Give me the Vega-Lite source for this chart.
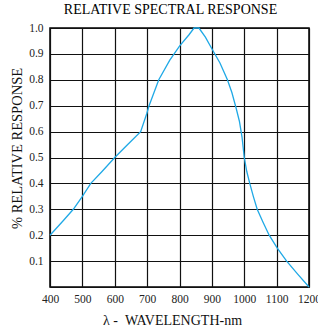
{
  "$schema": "https://vega.github.io/schema/vega-lite/v6.json",
  "width": 259,
  "height": 259,
  "autosize": {"type": "none"},
  "padding": {"left": 50, "top": 28, "right": 9, "bottom": 42},
  "background": "white",
  "title": {
    "text": "RELATIVE SPECTRAL RESPONSE",
    "font": "Liberation Serif",
    "fontSize": 14,
    "fontWeight": "normal",
    "color": "black",
    "anchor": "middle",
    "frame": "group",
    "dx": -9,
    "offset": 5
  },
  "config": {
    "view": {"stroke": "black", "strokeWidth": 1.5},
    "axis": {
      "labelFont": "Liberation Serif",
      "titleFont": "Liberation Serif",
      "labelColor": "#222",
      "titleColor": "#111",
      "labelFontSize": 11.5,
      "titleFontWeight": "normal",
      "gridColor": "#111",
      "gridOpacity": 1,
      "gridWidth": 1.2,
      "domain": false,
      "ticks": false
    }
  },
  "data": {
    "values": [
      {"nm": 400, "r": 0.2},
      {"nm": 440, "r": 0.255},
      {"nm": 472, "r": 0.3},
      {"nm": 500, "r": 0.35},
      {"nm": 526, "r": 0.4},
      {"nm": 560, "r": 0.445},
      {"nm": 600, "r": 0.5},
      {"nm": 640, "r": 0.55},
      {"nm": 680, "r": 0.6},
      {"nm": 699, "r": 0.67},
      {"nm": 706, "r": 0.7},
      {"nm": 736, "r": 0.8},
      {"nm": 770, "r": 0.876},
      {"nm": 800, "r": 0.93},
      {"nm": 830, "r": 0.975},
      {"nm": 845, "r": 1.0},
      {"nm": 860, "r": 1.0},
      {"nm": 880, "r": 0.965},
      {"nm": 900, "r": 0.92},
      {"nm": 925, "r": 0.865},
      {"nm": 948, "r": 0.8},
      {"nm": 962, "r": 0.75},
      {"nm": 975, "r": 0.69},
      {"nm": 985, "r": 0.64},
      {"nm": 993, "r": 0.58},
      {"nm": 1000, "r": 0.5},
      {"nm": 1008, "r": 0.445},
      {"nm": 1017, "r": 0.4},
      {"nm": 1028, "r": 0.35},
      {"nm": 1040, "r": 0.3},
      {"nm": 1058, "r": 0.25},
      {"nm": 1077, "r": 0.2},
      {"nm": 1102, "r": 0.15},
      {"nm": 1131, "r": 0.1},
      {"nm": 1165, "r": 0.05},
      {"nm": 1200, "r": 0.0}
    ]
  },
  "mark": {"type": "line", "color": "#1fa9e6", "strokeWidth": 1.3},
  "encoding": {
    "x": {
      "field": "nm",
      "type": "quantitative",
      "scale": {"domain": [400, 1200], "nice": false, "zero": false},
      "axis": {
        "values": [400, 500, 600, 700, 800, 900, 1000, 1100, 1200],
        "format": "d",
        "labelPadding": 6,
        "labelFlush": false,
        "title": "λ -\u00a0\u00a0WAVELENGTH-nm",
        "titleX": 122,
        "titleY": 33,
        "titleBaseline": "middle",
        "titleFontSize": 14
      }
    },
    "y": {
      "field": "r",
      "type": "quantitative",
      "scale": {"domain": [0, 1], "nice": false},
      "axis": {
        "values": [0, 0.1, 0.2, 0.3, 0.4, 0.5, 0.6, 0.7, 0.8, 0.9, 1.0],
        "format": ".1f",
        "labelExpr": "datum.value == 0 ? '' : datum.label",
        "labelPadding": 7,
        "labelFlush": false,
        "title": "% RELATIVE RESPONSE",
        "titleX": -33,
        "titleY": 120,
        "titleBaseline": "middle",
        "titleAlign": "center",
        "titleAngle": -90,
        "titleFontSize": 14.5
      }
    }
  }
}
